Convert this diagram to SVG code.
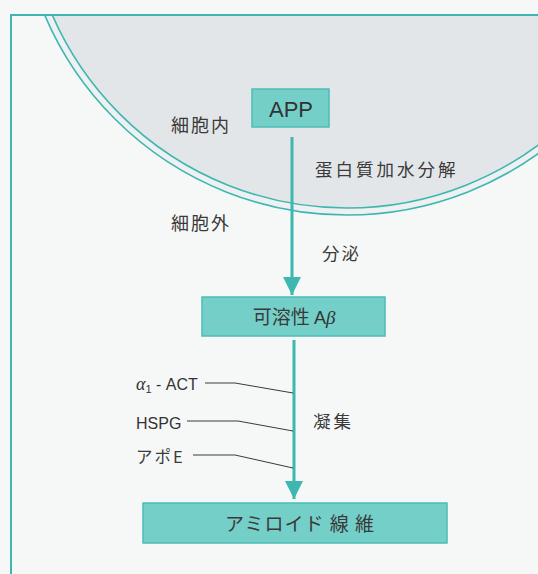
<svg xmlns="http://www.w3.org/2000/svg" width="538" height="574" viewBox="0 0 538 574">
  <defs>
    <style>
      .bg { fill: #f6f8f8; }
      .frame { fill: none; stroke: #3db7af; stroke-width: 2; }
      .mem { stroke: #3db7af; stroke-width: 1.6; }
      .box { fill: #74cfc8; stroke: #4bbdb5; stroke-width: 1.5; }
      .flow { stroke: #3db7af; stroke-width: 3; fill: none; }
      .leader { stroke: #3a3a3a; stroke-width: 1; fill: none; }
      .t { font-family: "Liberation Sans", "Noto Sans CJK JP", sans-serif; fill: #333; }
      .jp { font-family: "Noto Sans CJK JP", sans-serif; fill: #3a3a3a; }
      .gr { font-family: "Liberation Serif", serif; font-style: italic; }
    </style>
    <clipPath id="frameClip">
      <rect x="11" y="15" width="600" height="600"/>
    </clipPath>
    <marker id="arrow" viewBox="0 0 18 18" refX="18" refY="9" markerWidth="18" markerHeight="18" markerUnits="userSpaceOnUse" orient="auto">
      <path d="M0,0 L18,9 L0,18 Z" fill="#3db7af"/>
    </marker>
  </defs>

  <rect class="bg" x="0" y="0" width="538" height="574"/>

  <g id="cell" clip-path="url(#frameClip)">
    <circle cx="347" cy="-113.5" r="328.5" fill="#eef0f1" class="mem"/>
    <circle cx="347" cy="-113.5" r="321.5" fill="#e3e6e8" class="mem"/>
  </g>

  <path class="frame" d="M11,580 L11,15 L545,15"/>

  <g id="connectors">
    <line class="flow" x1="292" y1="137" x2="292" y2="295" marker-end="url(#arrow)"/>
    <line class="flow" x1="294" y1="340" x2="294" y2="499" marker-end="url(#arrow)"/>
    <polyline class="leader" points="205,383 235,383 293,393"/>
    <polyline class="leader" points="187,421 238,421 293,431"/>
    <polyline class="leader" points="193,455 235,455 293,468"/>
  </g>

  <g id="app">
    <rect class="box" x="252" y="89" width="77" height="38"/>
    <text class="t" x="291" y="117" font-size="22" text-anchor="middle">APP</text>
  </g>

  <g id="soluble">
    <rect class="box" x="202" y="297" width="183" height="39"/>
    <text class="jp" x="294" y="324" font-size="19" text-anchor="middle">可溶性 <tspan class="t" font-size="18">A</tspan><tspan class="gr" font-size="19" fill="#333">β</tspan></text>
  </g>

  <g id="amyloid">
    <rect class="box" x="143" y="503" width="304" height="40"/>
    <text class="jp" x="300" y="531" font-size="19" text-anchor="middle" letter-spacing="1">アミロイド 線 維</text>
  </g>

  <g id="labels">
    <text class="jp" x="171" y="132" font-size="18" letter-spacing="2">細胞内</text>
    <text class="jp" x="171" y="230" font-size="18" letter-spacing="2">細胞外</text>
    <text class="jp" x="315" y="176" font-size="17.5" letter-spacing="3">蛋白質加水分解</text>
    <text class="jp" x="322" y="260" font-size="17.5" letter-spacing="2">分泌</text>
    <text class="jp" x="313" y="428" font-size="17.5" letter-spacing="3">凝集</text>
    <text class="t" x="136" y="390" font-size="16"><tspan class="gr" font-size="18">α</tspan><tspan font-size="11" dy="3">1</tspan><tspan dy="-3"> - ACT</tspan></text>
    <text class="t" x="136" y="429" font-size="16">HSPG</text>
    <text class="jp" x="136" y="463" font-size="16.5" letter-spacing="2">アポE</text>
  </g>
</svg>
